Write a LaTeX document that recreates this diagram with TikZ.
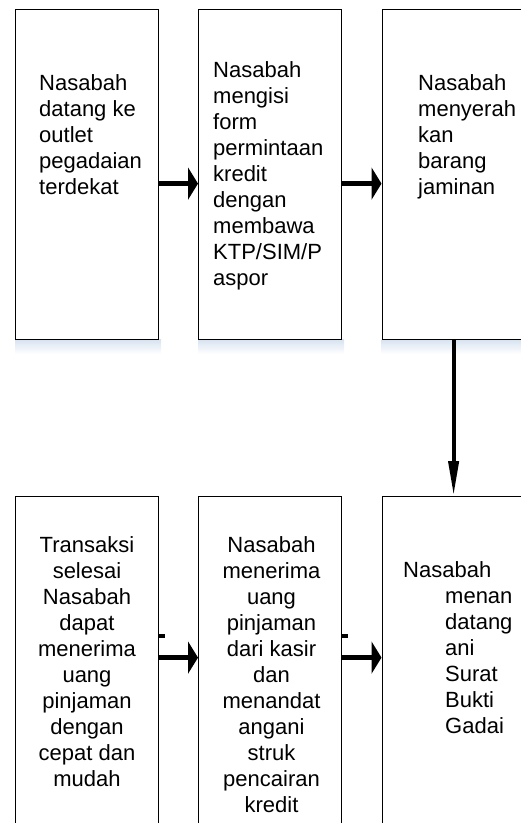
\documentclass[tikz,border=0pt]{standalone}
\usepackage{fontspec}
\setmainfont{Liberation Sans}
\usetikzlibrary{arrows.meta,calc}
\definecolor{shadowblue}{RGB}{214,226,240}
\begin{document}
\begin{tikzpicture}[x=1pt,y=-1pt,
  box/.style={draw=black,line width=1.2pt,fill=white,minimum width=143pt,minimum height=330pt,inner sep=0pt,anchor=north west},
  txt/.style={font=\fontsize{22pt}{26pt}\selectfont,inner sep=0pt},
  harrow/.style={line width=4.5pt,-{Triangle[length=10pt,width=32pt]}},
  varrow/.style={line width=4pt,-{Triangle[length=35pt,width=10pt]}},
  stub/.style={line width=4pt}]
\useasboundingbox (0,0) rectangle (521,823);
\clip (0,0) rectangle (521,823);
% shadows below the upper boxes
\shade[top color=shadowblue,bottom color=white] (15,339) rectangle (161,354);
\shade[top color=shadowblue,bottom color=white] (198,339) rectangle (344,354);
\shade[top color=shadowblue,bottom color=white] (381.5,339) rectangle (527,354);
% boxes
\node[box] (b1) at (15,9) {};
\node[box] (b2) at (198,9) {};
\node[box] (b3) at (381.5,9) {};
\node[box] (c1) at (15,496) {};
\node[box] (c2) at (198,496) {};
\node[box] (c3) at (381.5,496) {};
% texts
\node[txt,anchor=north west,align=left] (t1) at (39,74) {Nasabah\\datang ke\\outlet\\pegadaian\\terdekat};
\node[txt,anchor=north west,align=left] (t2) at (213,61) {Nasabah\\mengisi\\form\\permintaan\\kredit\\dengan\\membawa\\KTP/SIM/P\\aspor};
\node[txt,anchor=north west,align=left] (t3) at (418,74) {Nasabah\\menyerah\\kan\\barang\\jaminan};
\node[txt,anchor=north,align=center] (t4) at (87,536) {Transaksi\\selesai\\Nasabah\\dapat\\menerima\\uang\\pinjaman\\dengan\\cepat dan\\mudah};
\node[txt,anchor=north,align=center] (t5) at (271.5,536) {Nasabah\\menerima\\uang\\pinjaman\\dari kasir\\dan\\menandat\\angani\\struk\\pencairan\\kredit};
\node[txt,anchor=north west,align=left] (t6) at (403,561) {Nasabah\\\hspace*{42pt}menan\\\hspace*{42pt}datang\\\hspace*{42pt}ani\\\hspace*{42pt}Surat\\\hspace*{42pt}Bukti\\\hspace*{42pt}Gadai};
% connectors
\draw[harrow] ([yshift=-9pt]b1.east) -- ([yshift=-9pt]b2.west);
\draw[harrow] ([yshift=-9pt]b2.east) -- ([yshift=-9pt]b3.west);
\draw[varrow] (b3.south) -- (c3.north);
\draw[harrow] ([yshift=4pt]c1.east) -- ([yshift=4pt]c2.west);
\draw[harrow] ([yshift=4pt]c2.east) -- ([yshift=4pt]c3.west);
\draw[stub] ([yshift=26pt]c1.east) -- ++(6,0);
\draw[stub] ([yshift=26pt]c2.east) -- ++(6,0);
\end{tikzpicture}
\end{document}
